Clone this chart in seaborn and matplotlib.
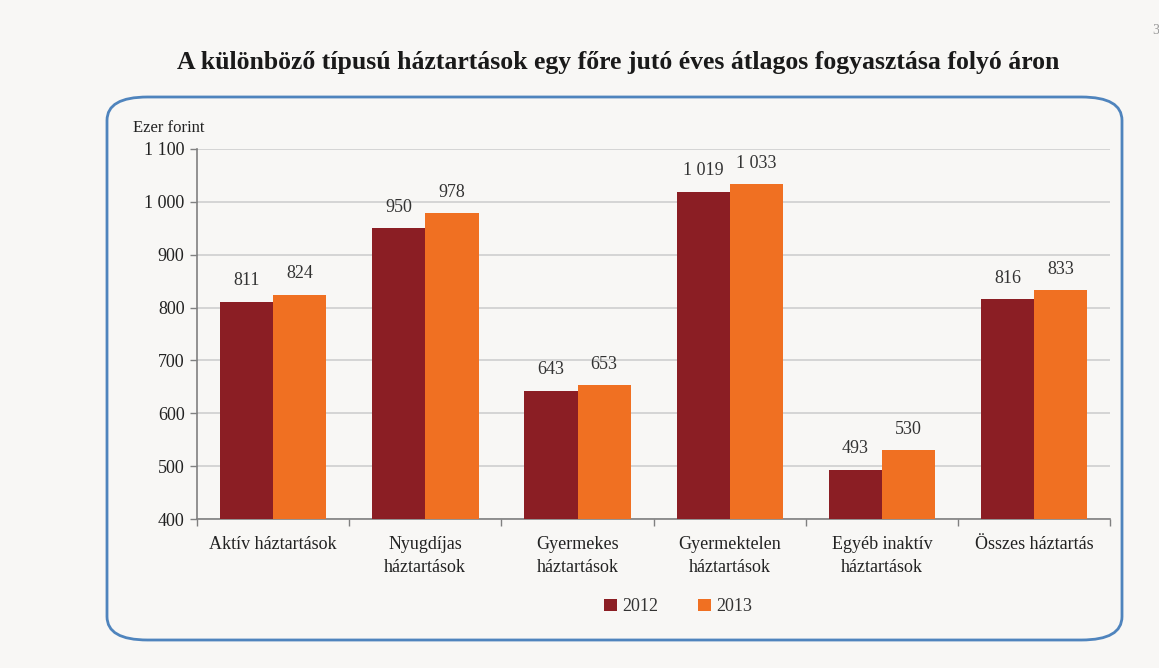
import matplotlib
matplotlib.use('Agg')
import matplotlib.pyplot as plt
from matplotlib.patches import FancyBboxPatch
from matplotlib.ticker import FixedLocator
import seaborn as sns
import pandas as pd

categories = ['Aktív háztartások', 'Nyugdíjas\nháztartások', 'Gyermekes\nháztartások',
              'Gyermektelen\nháztartások', 'Egyéb inaktív\nháztartások', 'Összes háztartás']
years = ['2012', '2013']
values_2012 = [811, 950, 643, 1019, 493, 816]
values_2013 = [824, 978, 653, 1033, 530, 833]
yticks = [400, 500, 600, 700, 800, 900, 1000, 1100]

colors = {'2012': '#8b1e24', '2013': '#f07022'}
bg = '#f8f7f5'


def fmt(v):
  return '{:,}'.format(int(v)).replace(',', ' ')


def main():
  sns.set_style('white')
  plt.rcParams['font.family'] = ['Liberation Serif', 'DejaVu Serif']

  df = pd.DataFrame({
    'category': categories * 2,
    'year': [years[0]] * len(categories) + [years[1]] * len(categories),
    'value': values_2012 + values_2013,
  })

  fig = plt.figure(figsize=(11.59, 6.68), dpi=100, facecolor=bg)
  ax = fig.add_axes([0.170, 0.223, 0.788, 0.554])
  ax.set_facecolor(bg)

  # rounded frame around the chart
  box = FancyBboxPatch((107 / 1159, 1 - 640 / 668), (1122 - 107) / 1159, (640 - 97) / 668,
                       boxstyle='round,pad=0,rounding_size=0.035', transform=fig.transFigure,
                       facecolor='none', edgecolor='#4f84bd', linewidth=2.0, zorder=0)
  fig.patches.append(box)

  sns.barplot(data=df, x='category', y='value', hue='year', order=categories,
              hue_order=years, palette=colors, width=0.70, saturation=1,
              linewidth=0, ax=ax, zorder=3)

  for cont in ax.containers:
    ax.bar_label(cont, labels=[fmt(b.get_height()) for b in cont], padding=9,
                 fontsize=13, color='#333333')

  ax.set_ylim(400, 1100)
  ax.set_xlim(-0.5, len(categories) - 0.5)
  ax.set_yticks(yticks)
  ax.set_yticklabels([fmt(t) for t in yticks], fontsize=13, color='#222222')
  ax.yaxis.grid(True, color='#cfcfcf', linewidth=1.2, zorder=0)
  ax.set_axisbelow(True)

  ax.set_xticks(range(len(categories)))
  ax.set_xticklabels(categories, fontsize=13, color='#222222', linespacing=1.45)
  ax.xaxis.set_minor_locator(FixedLocator([i - 0.5 for i in range(len(categories) + 1)]))
  ax.tick_params(axis='x', which='major', length=0, pad=12)
  ax.tick_params(axis='x', which='minor', length=5, color='#808080', width=1)
  ax.tick_params(axis='y', length=5, color='#808080', width=1, pad=4, direction='out')
  ax.yaxis.set_ticks_position('left')
  ax.xaxis.set_ticks_position('bottom')

  for s in ['top', 'right']:
    ax.spines[s].set_visible(False)
  for s in ['left', 'bottom']:
    ax.spines[s].set_color('#808080')
    ax.spines[s].set_linewidth(1.2)

  ax.set_xlabel('')
  ax.set_ylabel('')

  leg = ax.legend(loc='center', bbox_to_anchor=(0.527, -0.237), ncol=2, frameon=False,
                  fontsize=13, handlelength=0.7, handleheight=0.7, columnspacing=2.2,
                  handletextpad=0.3)
  for t in leg.get_texts():
    t.set_color('#333333')

  fig.text(133 / 1159, 1 - 128 / 668, 'Ezer forint', fontsize=12, color='#222222',
           ha='left', va='center')
  fig.text(618 / 1159, 1 - 62 / 668,
           'A különböző típusú háztartások egy főre jutó éves átlagos fogyasztása folyó áron',
           fontsize=18.5, fontweight='bold', color='#1a1a1a', ha='center', va='center')
  fig.text(1152 / 1159, 1 - 30 / 668, '3', fontsize=10, color='#999999', ha='left', va='center')

  fig.savefig('out.png', dpi=100, facecolor=bg)


if __name__ == '__main__':
  main()
